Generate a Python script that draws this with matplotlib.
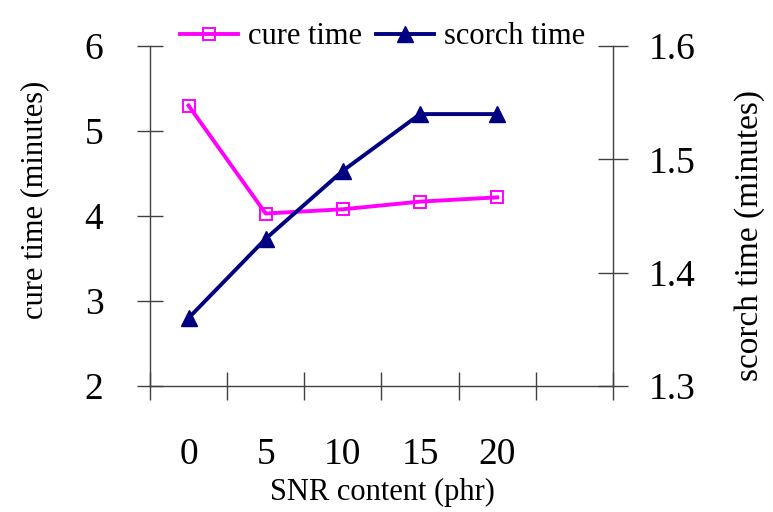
import numpy as np
import matplotlib.pyplot as plt

plt.rcParams['font.family'] = ['Liberation Serif', 'DejaVu Serif']

snr = ['0', '5', '10', '15', '20']
cure_time = [5.30, 4.03, 4.08, 4.17, 4.22]
scorch_time = [1.36, 1.43, 1.49, 1.54, 1.54]

x = np.arange(len(snr))
axis_col = '#404040'

fig = plt.figure(figsize=(7.73, 5.12), dpi=100)
ax = fig.add_axes([0.194, 0.246, 0.599, 0.664])
ax2 = ax.twinx()

l1, = ax.plot(x, cure_time, color='#FF00FF', lw=2.8, marker='s', ms=8,
              mfc='none', mew=1.4, label='cure time')
l2, = ax2.plot(x, scorch_time, color='#000080', lw=2.8, marker='^', ms=11,
               label='scorch time')

ax.set_xlim(-0.5, 5.5)
ax.set_ylim(2, 6)
ax2.set_ylim(1.3, 1.6)
ax.set_yticks([2, 3, 4, 5, 6])
ax2.set_yticks([1.3, 1.4, 1.5, 1.6])
ax2.set_yticklabels(['1.3', '1.4', '1.5', '1.6'])

# tick marks sit between categories, labels under the categories
ax.set_xticks(np.arange(-0.5, 6, 1.0))
ax.set_xticklabels([])
ax.set_xticks(x, minor=True)
ax.set_xticklabels(snr, minor=True)
ax.tick_params(axis='x', which='major', direction='inout', length=20,
               width=1, color=axis_col)
ax.tick_params(axis='x', which='minor', length=0, pad=37, labelsize=27)
ax.tick_params(axis='y', direction='inout', length=19, width=1,
               color=axis_col, pad=24, labelsize=27)
ax2.tick_params(axis='y', direction='inout', length=21, width=1,
                color=axis_col, pad=15, labelsize=27)

for a in (ax, ax2):
    a.spines['top'].set_visible(False)
    for s in ('left', 'right', 'bottom'):
        a.spines[s].set_color(axis_col)
        a.spines[s].set_linewidth(1)
ax.spines['right'].set_visible(False)
ax2.spines['left'].set_visible(False)
ax2.spines['bottom'].set_visible(False)

ax.set_xlabel('SNR content (phr)', fontsize=22)
ax.xaxis.set_label_coords(0.503, -0.312)
ax.xaxis.label.set_va('center')
ax.set_ylabel('cure time (minutes)', fontsize=22)
ax.yaxis.set_label_coords(-0.248, 0.547)
ax.yaxis.label.set_va('center')
ax2.set_ylabel('scorch time (minutes)', fontsize=24, rotation=90)
ax2.yaxis.set_label_coords(1.296, 0.444)
ax2.yaxis.label.set_va('center')

fig.legend(handles=[l1, l2], loc='center', bbox_to_anchor=(0.495, 0.928),
           ncol=2, frameon=False, fontsize=22, handlelength=1.9,
           handletextpad=0.33, columnspacing=0.45)

fig.savefig('out.png', dpi=100)
